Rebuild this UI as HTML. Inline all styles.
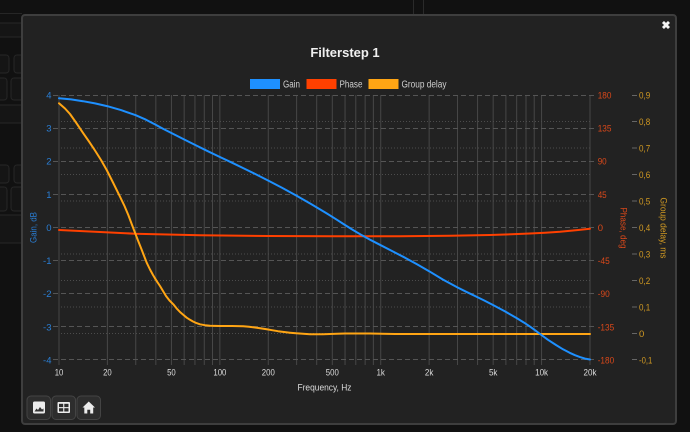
<!DOCTYPE html>
<html><head><meta charset="utf-8"><style>
html,body{margin:0;padding:0;background:#111;width:690px;height:432px;overflow:hidden}
svg{display:block}
text{font-family:"Liberation Sans",sans-serif}
</style></head><body>
<svg width="690" height="432" viewBox="0 0 690 432" xmlns="http://www.w3.org/2000/svg">
<rect width="690" height="432" fill="#111"/>
<!-- background app bits -->
<g fill="#151515" stroke="#262626" stroke-width="1">
<rect x="-5" y="13" width="27" height="1" stroke="none" fill="#262626"/>
<rect x="-5" y="23" width="30" height="14" rx="2"/>
<rect x="-5" y="55" width="14" height="18" rx="3"/>
<rect x="14" y="55" width="12" height="18" rx="3"/>
<rect x="-5" y="78" width="12" height="22" rx="3"/>
<rect x="11" y="78" width="14" height="22" rx="3"/>
<rect x="-5" y="105" width="30" height="18" rx="2"/>
<rect x="-5" y="165" width="14" height="18" rx="3"/>
<rect x="14" y="165" width="12" height="18" rx="3"/>
<rect x="-5" y="187" width="12" height="24" rx="3"/>
<rect x="11" y="187" width="14" height="24" rx="3"/>
<rect x="-5" y="215" width="30" height="28" rx="2"/>
</g>
<rect x="413" y="0" width="1" height="15" fill="#2a2a2a"/>
<rect x="423" y="0" width="1" height="15" fill="#2a2a2a"/>
<!-- dialog -->
<rect x="22" y="15" width="654" height="409" rx="3" fill="#222" stroke="#3e3e3e" stroke-width="2"/>
<text x="345" y="57" text-anchor="middle" font-size="13" font-weight="bold" fill="#f0f0f0">Filterstep 1</text>
<text x="666" y="29" text-anchor="middle" font-size="11" font-weight="bold" fill="#f4f4f4">✖</text>
<!-- legend -->
<rect x="250" y="79" width="30" height="10" fill="#1e90ff"/>
<text x="283" y="87.5" font-size="10" fill="#cfcfcf" textLength="17" lengthAdjust="spacingAndGlyphs">Gain</text>
<rect x="306.5" y="79" width="30" height="10" fill="#ff4000"/>
<text x="339.5" y="87.5" font-size="10" fill="#cfcfcf" textLength="23" lengthAdjust="spacingAndGlyphs">Phase</text>
<rect x="368.5" y="79" width="30" height="10" fill="#ffa514"/>
<text x="401.5" y="87.5" font-size="10" fill="#cfcfcf" textLength="45" lengthAdjust="spacingAndGlyphs">Group delay</text>
<!-- vertical grid -->
<g stroke="#474747" stroke-width="1">
<line x1="59" y1="95" x2="59" y2="365"/><line x1="107.4" y1="95" x2="107.4" y2="365"/><line x1="135.75" y1="95" x2="135.75" y2="365"/><line x1="155.85" y1="95" x2="155.85" y2="365"/><line x1="171.44" y1="95" x2="171.44" y2="365"/><line x1="184.17" y1="95" x2="184.17" y2="365"/><line x1="194.94" y1="95" x2="194.94" y2="365"/><line x1="204.27" y1="95" x2="204.27" y2="365"/><line x1="212.5" y1="95" x2="212.5" y2="365"/><line x1="219.86" y1="95" x2="219.86" y2="365"/>
<line x1="268.28" y1="95" x2="268.28" y2="365"/><line x1="296.61" y1="95" x2="296.61" y2="365"/><line x1="316.71" y1="95" x2="316.71" y2="365"/><line x1="332.3" y1="95" x2="332.3" y2="365"/><line x1="345.03" y1="95" x2="345.03" y2="365"/><line x1="355.8" y1="95" x2="355.8" y2="365"/><line x1="365.13" y1="95" x2="365.13" y2="365"/><line x1="373.36" y1="95" x2="373.36" y2="365"/><line x1="380.72" y1="95" x2="380.72" y2="365"/>
<line x1="429.14" y1="95" x2="429.14" y2="365"/><line x1="457.47" y1="95" x2="457.47" y2="365"/><line x1="477.57" y1="95" x2="477.57" y2="365"/><line x1="493.16" y1="95" x2="493.16" y2="365"/><line x1="505.89" y1="95" x2="505.89" y2="365"/><line x1="516.66" y1="95" x2="516.66" y2="365"/><line x1="525.99" y1="95" x2="525.99" y2="365"/><line x1="534.22" y1="95" x2="534.22" y2="365"/><line x1="541.58" y1="95" x2="541.58" y2="365"/><line x1="590" y1="95" x2="590" y2="365"/>
</g>
<!-- dotted group delay grid -->
<g stroke="#4c4c4c" stroke-width="1" stroke-dasharray="1,2">
<line x1="61" y1="121.5" x2="590" y2="121.5"/><line x1="61" y1="148" x2="590" y2="148"/><line x1="61" y1="174.5" x2="590" y2="174.5"/><line x1="61" y1="201" x2="590" y2="201"/><line x1="61" y1="254" x2="590" y2="254"/><line x1="61" y1="280.5" x2="590" y2="280.5"/><line x1="61" y1="307" x2="590" y2="307"/><line x1="61" y1="333.5" x2="590" y2="333.5"/>
</g>
<!-- dashed gain/phase grid -->
<g stroke="#555" stroke-width="1" stroke-dasharray="5,3">
<line x1="53" y1="95.5" x2="596" y2="95.5"/><line x1="53" y1="128.5" x2="596" y2="128.5"/><line x1="53" y1="161.5" x2="596" y2="161.5"/><line x1="53" y1="194.5" x2="596" y2="194.5"/><line x1="53" y1="227.5" x2="596" y2="227.5"/><line x1="53" y1="260.5" x2="596" y2="260.5"/><line x1="53" y1="293.5" x2="596" y2="293.5"/><line x1="53" y1="326.5" x2="596" y2="326.5"/><line x1="53" y1="359.5" x2="596" y2="359.5"/>
</g>
<!-- group delay ticks -->
<g stroke="#666" stroke-width="1">
<line x1="632" y1="95.5" x2="637" y2="95.5"/><line x1="632" y1="121.5" x2="637" y2="121.5"/><line x1="632" y1="148" x2="637" y2="148"/><line x1="632" y1="174.5" x2="637" y2="174.5"/><line x1="632" y1="201" x2="637" y2="201"/><line x1="632" y1="227.5" x2="637" y2="227.5"/><line x1="632" y1="254" x2="637" y2="254"/><line x1="632" y1="280.5" x2="637" y2="280.5"/><line x1="632" y1="307" x2="637" y2="307"/><line x1="632" y1="333.5" x2="637" y2="333.5"/><line x1="632" y1="359.5" x2="637" y2="359.5"/>
</g>
<!-- gain labels -->
<g font-size="9.5" fill="#2a7fd6" text-anchor="end">
<text x="51.5" y="98.5">4</text><text x="51.5" y="131.6">3</text><text x="51.5" y="164.7">2</text><text x="51.5" y="197.8">1</text><text x="51.5" y="231">0</text><text x="51.5" y="264.1">-1</text><text x="51.5" y="297.2">-2</text><text x="51.5" y="330.3">-3</text><text x="51.5" y="363.4">-4</text>
</g>
<text transform="translate(33,227.5) rotate(-90)" x="0" y="3.3" text-anchor="middle" font-size="9.5" fill="#2a7fd6" textLength="31" lengthAdjust="spacingAndGlyphs">Gain, dB</text>
<!-- phase labels -->
<g font-size="9.5" fill="#d9481a">
<text x="597.7" y="98.5" textLength="13.7" lengthAdjust="spacingAndGlyphs">180</text><text x="597.7" y="131.6" textLength="13.7" lengthAdjust="spacingAndGlyphs">135</text><text x="597.7" y="164.7" textLength="9" lengthAdjust="spacingAndGlyphs">90</text><text x="597.7" y="197.8" textLength="9" lengthAdjust="spacingAndGlyphs">45</text><text x="597.7" y="231">0</text><text x="597.7" y="264.1" textLength="12" lengthAdjust="spacingAndGlyphs">-45</text><text x="597.7" y="297.2" textLength="12" lengthAdjust="spacingAndGlyphs">-90</text><text x="597.7" y="330.3" textLength="16.5" lengthAdjust="spacingAndGlyphs">-135</text><text x="597.7" y="363.4" textLength="16.5" lengthAdjust="spacingAndGlyphs">-180</text>
</g>
<text transform="translate(624,228) rotate(90)" x="0" y="3.3" text-anchor="middle" font-size="9.5" fill="#d9481a" textLength="41" lengthAdjust="spacingAndGlyphs">Phase, deg</text>
<!-- group delay labels -->
<g font-size="9.5" fill="#d29a22">
<text x="639" y="98.5" textLength="11.2" lengthAdjust="spacingAndGlyphs">0,9</text><text x="639" y="125" textLength="11.2" lengthAdjust="spacingAndGlyphs">0,8</text><text x="639" y="151.5" textLength="11.2" lengthAdjust="spacingAndGlyphs">0,7</text><text x="639" y="178" textLength="11.2" lengthAdjust="spacingAndGlyphs">0,6</text><text x="639" y="204.5" textLength="11.2" lengthAdjust="spacingAndGlyphs">0,5</text><text x="639" y="231" textLength="11.2" lengthAdjust="spacingAndGlyphs">0,4</text><text x="639" y="257.5" textLength="11.2" lengthAdjust="spacingAndGlyphs">0,3</text><text x="639" y="284" textLength="11.2" lengthAdjust="spacingAndGlyphs">0,2</text><text x="639" y="310.5" textLength="11.2" lengthAdjust="spacingAndGlyphs">0,1</text><text x="639" y="337">0</text><text x="639" y="363.4" textLength="13.3" lengthAdjust="spacingAndGlyphs">-0,1</text>
</g>
<text transform="translate(664,228) rotate(90)" x="0" y="3.3" text-anchor="middle" font-size="9.5" fill="#d29a22" textLength="61" lengthAdjust="spacingAndGlyphs">Group delay, ms</text>
<!-- x labels -->
<g font-size="9.5" fill="#dcdcdc" text-anchor="middle">
<text x="59" y="375.5" textLength="8.6" lengthAdjust="spacingAndGlyphs">10</text><text x="107.4" y="375.5" textLength="8.6" lengthAdjust="spacingAndGlyphs">20</text><text x="171.4" y="375.5" textLength="8.6" lengthAdjust="spacingAndGlyphs">50</text><text x="219.9" y="375.5" textLength="13" lengthAdjust="spacingAndGlyphs">100</text><text x="268.3" y="375.5" textLength="13" lengthAdjust="spacingAndGlyphs">200</text><text x="332.3" y="375.5" textLength="13" lengthAdjust="spacingAndGlyphs">500</text><text x="380.7" y="375.5" textLength="8.5" lengthAdjust="spacingAndGlyphs">1k</text><text x="429.1" y="375.5" textLength="8.5" lengthAdjust="spacingAndGlyphs">2k</text><text x="493.2" y="375.5" textLength="8.5" lengthAdjust="spacingAndGlyphs">5k</text><text x="541.6" y="375.5" textLength="13" lengthAdjust="spacingAndGlyphs">10k</text><text x="590" y="375.5" textLength="13" lengthAdjust="spacingAndGlyphs">20k</text>
</g>
<text x="324.5" y="390.5" text-anchor="middle" font-size="9.5" fill="#dcdcdc" textLength="54" lengthAdjust="spacingAndGlyphs">Frequency, Hz</text>
<!-- series -->
<g fill="none" stroke-width="2" stroke-linejoin="round" stroke-linecap="round">
<polyline stroke="#ff4000" points="59,230 100,232 135,233.7 200,235.3 268,236 331,236.3 400,236.2 450,235.8 490,235 511.7,234.3 530,233.5 545,232.7 560,231.8 578.3,230 590,228.7"/>
<polyline stroke="#ffa514" points="59,103.3 65,108.5 70,114 76,122.5 83.3,133.3 89,141.5 95,150.5 101,160 106.7,170 113,182.5 120,196.7 124.5,206 128.3,215 131.5,223.5 135,232.7 138,240.5 141,248 144,255.7 146.7,262.7 150,269.5 153,275 156.5,280.8 160,286 163,291 166,296 169.5,300.5 173.3,304.3 176.5,308.3 180,312 183.5,315 186.7,317.7 190,319.8 193,321.5 196.5,323.1 200,324.3 205,325.2 210,325.7 220,326 232,326 243.3,326.2 249,326.7 255,327.5 261,328.4 266.7,329.3 272,330.2 278,331.2 284,332 290,332.7 296,333.3 303,333.8 310,334.2 316.7,334.3 323,334.2 330,334 337,333.7 345,333.5 370,333.5 395,334 590,334"/>
<polyline stroke="#1e90ff" points="59,98.3 71,99.4 83,101.2 95,103.4 107,106.1 121,110.1 135.7,115.2 146,119.7 155.7,124.8 163,128.7 171.4,133 183,138.9 195,144.9 207,150.8 219.9,157 232,162.7 244,168.5 256,174.4 268.3,180.6 282,187.8 296.6,195.8 311,204 326.7,213.4 336,219.2 345,225 353,230 362,235.3 371,240.2 380.7,245.2 392,251 405,257.7 417,264.3 429.1,271.2 443,279.6 457.4,287.4 466,291.7 475,296 484,300.4 493,305 505,311.4 516.5,318 524,322.6 530,326.6 536,330.9 541.4,335 548,339.8 556,345 563,349.3 569.7,352.8 575,355.2 580,357.1 585,358.6 590,359.5"/>
</g>
<!-- buttons -->
<g stroke="#444" stroke-width="1" fill="#2d2d2d">
<rect x="27" y="396" width="23.5" height="23.5" rx="4"/>
<rect x="52" y="396" width="23.5" height="23.5" rx="4"/>
<rect x="77" y="396" width="23.5" height="23.5" rx="4"/>
</g>
<rect x="33" y="401.5" width="12" height="12" rx="1.5" fill="#ececec"/>
<path d="M34.5,411.5 L36.5,408.5 L38,410 L40,407 L42,409.5 L43.5,408.5 L43.5,411.5 Z" fill="#333"/>
<rect x="57.5" y="402" width="12.5" height="11" rx="1" fill="#ececec"/>
<rect x="59" y="403.8" width="4.2" height="3.3" fill="#2d2d2d"/><rect x="64.3" y="403.8" width="4.2" height="3.3" fill="#2d2d2d"/>
<rect x="59" y="408.2" width="4.2" height="3.3" fill="#2d2d2d"/><rect x="64.3" y="408.2" width="4.2" height="3.3" fill="#2d2d2d"/>
<path d="M88.75,401.5 L82.5,407.5 L84.3,407.5 L84.3,413.5 L87.3,413.5 L87.3,409.8 L90.2,409.8 L90.2,413.5 L93.2,413.5 L93.2,407.5 L95,407.5 Z" fill="#ececec"/>
</svg>
</body></html>
